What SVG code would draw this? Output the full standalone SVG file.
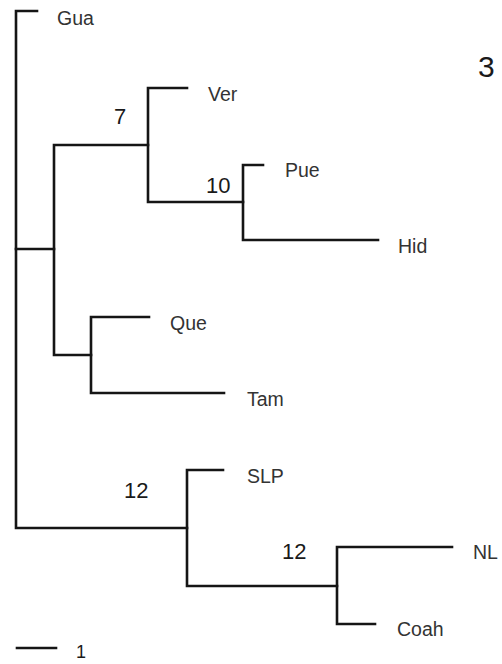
<svg xmlns="http://www.w3.org/2000/svg" width="502" height="664" viewBox="0 0 502 664">
<style>
.br{fill:none;stroke:#151515;stroke-width:2.6;stroke-linejoin:miter;stroke-linecap:square}
.lab{font-family:"Liberation Sans",Arial,sans-serif;font-size:19.5px;fill:#333}
.sup{font-family:"Liberation Sans",Arial,sans-serif;font-size:22px;fill:#1a1a1a}
</style>
<rect width="502" height="664" fill="#fff"/>
<g id="connectors">
<path class="br" d="M37,11 H16 V528 H187"/>
<path class="br" d="M16,249 H54"/>
<path class="br" d="M148,145 H54 V355 H91"/>
<path class="br" d="M187,88 H148 V202 H243"/>
<path class="br" d="M263,165 H243 V240 H378"/>
<path class="br" d="M149,317 H91 V393 H224"/>
<path class="br" d="M223,470 H187 V586 H337"/>
<path class="br" d="M452,547 H337 V624 H375"/>
</g>
<g id="node-Gua"><text class="lab" x="57" y="25">Gua</text></g>
<g id="node-Ver"><text class="lab" x="208" y="101">Ver</text></g>
<g id="node-Pue"><text class="lab" x="285" y="177">Pue</text></g>
<g id="node-Hid"><text class="lab" x="398" y="253">Hid</text></g>
<g id="node-Que"><text class="lab" x="170" y="330">Que</text></g>
<g id="node-Tam"><text class="lab" x="247" y="406">Tam</text></g>
<g id="node-SLP"><text class="lab" x="247" y="483">SLP</text></g>
<g id="node-NL"><text class="lab" x="473" y="559">NL</text></g>
<g id="node-Coah"><text class="lab" x="397" y="636">Coah</text></g>
<g id="support-7"><text class="sup" x="114" y="124">7</text></g>
<g id="support-10"><text class="sup" x="206" y="193">10</text></g>
<g id="support-12a"><text class="sup" x="124" y="498">12</text></g>
<g id="support-12b"><text class="sup" x="282" y="559">12</text></g>
<g id="panel-label"><text class="sup" x="478" y="77" style="font-size:30px;font-weight:300">3</text></g>
<g id="scale-bar">
<path class="br" d="M17,648 H56"/>
<text class="sup" x="76" y="658" style="font-size:18px">1</text>
</g>
</svg>
